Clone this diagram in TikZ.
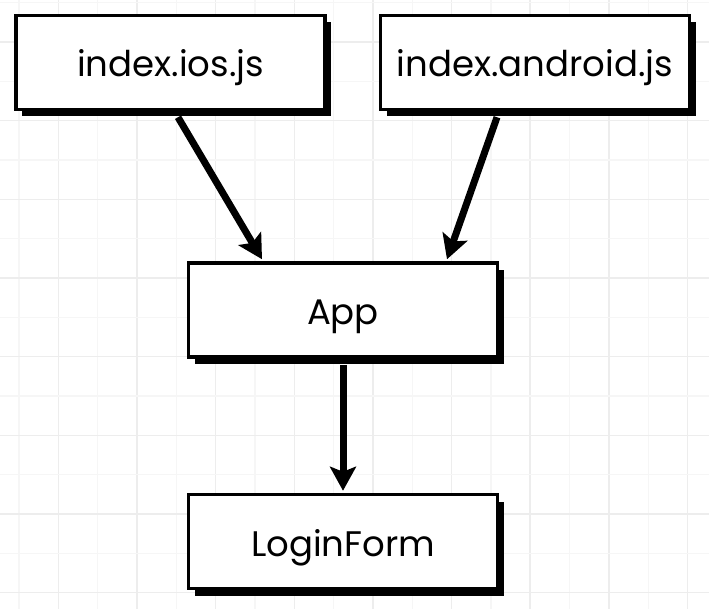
\documentclass[tikz,border=0pt]{standalone}
\usepackage{fontspec}
\setmainfont{Poppins}
\usetikzlibrary{shadows,arrows.meta,calc}
\definecolor{gridminor}{HTML}{F6F6F6}
\definecolor{gridmajor}{HTML}{EDEDED}
\tikzset{
  filebox/.style={draw=black, line width=3.5pt, fill=white, minimum width=309pt, minimum height=94pt,
    inner sep=0pt, font=\fontsize{35.5}{38}\selectfont, text height=32pt, text depth=3pt,
    general shadow={shadow xshift=6pt, shadow yshift=-7pt, fill=black}},
  link/.style={line width=7pt, -{Stealth[length=24pt,width=26pt,inset=5pt]}}
}
\begin{document}
\begin{tikzpicture}[x=1pt,y=-1pt]
\useasboundingbox (0,0) rectangle (709,609);
\fill[white] (0,0) rectangle (709,609);
\foreach \k in {0,...,17}{
  \pgfmathsetmacro{\gx}{19+39.33*\k}
  \pgfmathparse{int(mod(\k,2))}
  \ifnum\pgfmathresult=1
    \draw[gridmajor, line width=1.6pt] (\gx,0) -- (\gx,609);
  \else
    \draw[gridminor, line width=1.2pt] (\gx,0) -- (\gx,609);
  \fi
}
\foreach \k in {0,...,15}{
  \pgfmathsetmacro{\gy}{2.7+39.33*\k}
  \pgfmathparse{int(mod(\k,2))}
  \ifnum\pgfmathresult=1
    \draw[gridmajor, line width=1.6pt] (0,\gy) -- (709,\gy);
  \else
    \draw[gridminor, line width=1.2pt] (0,\gy) -- (709,\gy);
  \fi
}
\node[filebox] (ios) at (170.5,62.5) {index.ios.js};
\node[filebox] (android) at (535,62.5) {index.android.js};
\node[filebox] (app) at (343,310) {App};
\node[filebox] (login) at (343,541.5) {LoginForm};
\draw[link] ([xshift=7.5pt,yshift=-6pt]ios.south) -- ([xshift=-81pt,yshift=2pt]app.north);
\draw[link] ([xshift=-38pt,yshift=-6pt]android.south) -- ([xshift=104pt,yshift=2pt]app.north);
\draw[link] ([yshift=-6pt]app.south) -- ([yshift=2pt]login.north);
\end{tikzpicture}
\end{document}
